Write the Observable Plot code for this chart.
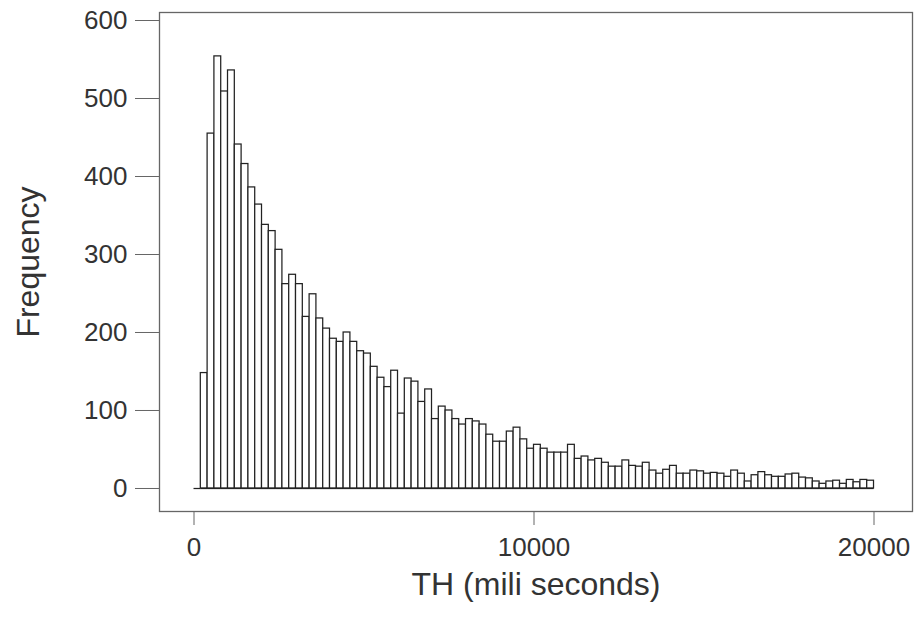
<!DOCTYPE html>
<html>
<head>
<meta charset="utf-8">
<script src="https://cdn.jsdelivr.net/npm/d3@7"></script>
<script src="https://cdn.jsdelivr.net/npm/@observablehq/plot@0.6"></script>
<style>
  html, body { margin: 0; padding: 0; background: #fff; }
</style>
</head>
<body>
<div id="chart"></div>
<script>
// Histogram of TH (bin width 200 ms, 0 .. 20000)
const binWidth = 200;
const counts = [
  0, 148, 455, 554, 509, 536, 441, 416, 386, 364,
  338, 330, 306, 262, 274, 262, 220, 249, 218, 205,
  192, 188, 200, 188, 176, 173, 156, 142, 130, 151,
  96, 141, 137, 111, 127, 89, 105, 100, 89, 82,
  89, 86, 82, 69, 60, 60, 73, 78, 63, 51,
  56, 51, 46, 46, 46, 56, 38, 41, 36, 38,
  33, 28, 28, 36, 29, 28, 33, 23, 19, 24,
  29, 19, 19, 23, 22, 19, 20, 19, 15, 23,
  19, 9, 17, 21, 17, 15, 15, 18, 19, 14,
  13, 9, 6, 9, 10, 6, 11, 8, 11, 10
];
const xTicks = [0, 10000, 20000];
const yTicks = [0, 100, 200, 300, 400, 500, 600];
const xTitle = "TH (mili seconds)";
const yTitle = "Frequency";

const bins = counts.map((c, i) => ({x1: i * binWidth, x2: (i + 1) * binWidth, count: c}));

const textColor = "#333";
const plot = Plot.plot({
  width: 915,
  height: 617,
  marginLeft: 159,
  marginRight: 3,
  marginTop: 12,
  marginBottom: 106,
  style: {fontFamily: "'Liberation Sans', Arial, Helvetica, sans-serif", fontSize: "26px", color: textColor, background: "#fff"},
  x: {domain: [-1015, 21132]},
  y: {domain: [-29.49, 610.26]},
  marks: [
    Plot.frame({stroke: "#666", strokeWidth: 1.3}),
    Plot.rectY(bins, {x1: "x1", x2: "x2", y1: 0, y2: "count", fill: "#fff", stroke: "#222", strokeWidth: 1.25, insetLeft: 0, insetRight: 0}),
    Plot.ruleY(bins, {y: 0, x1: "x1", x2: "x2", stroke: "#222", strokeWidth: 1.25}),
    Plot.axisY({ticks: yTicks, tickSize: 24, tickPadding: 8, tickFormat: d3.format("d"), stroke: "#666", label: null}),
    Plot.axisX({ticks: xTicks, tickSize: 14, tickPadding: 12, tickFormat: d3.format("d"), stroke: "#666", label: null}),
    Plot.text([yTitle], {text: d => d, frameAnchor: "left", dx: -131, rotate: -90, textAnchor: "middle", lineAnchor: "middle", fontSize: 32, fill: textColor}),
    Plot.text([xTitle], {text: d => d, frameAnchor: "bottom", dy: 73, textAnchor: "middle", lineAnchor: "middle", fontSize: 32, fill: textColor})
  ]
});
document.getElementById("chart").appendChild(plot);
</script>
</body>
</html>
